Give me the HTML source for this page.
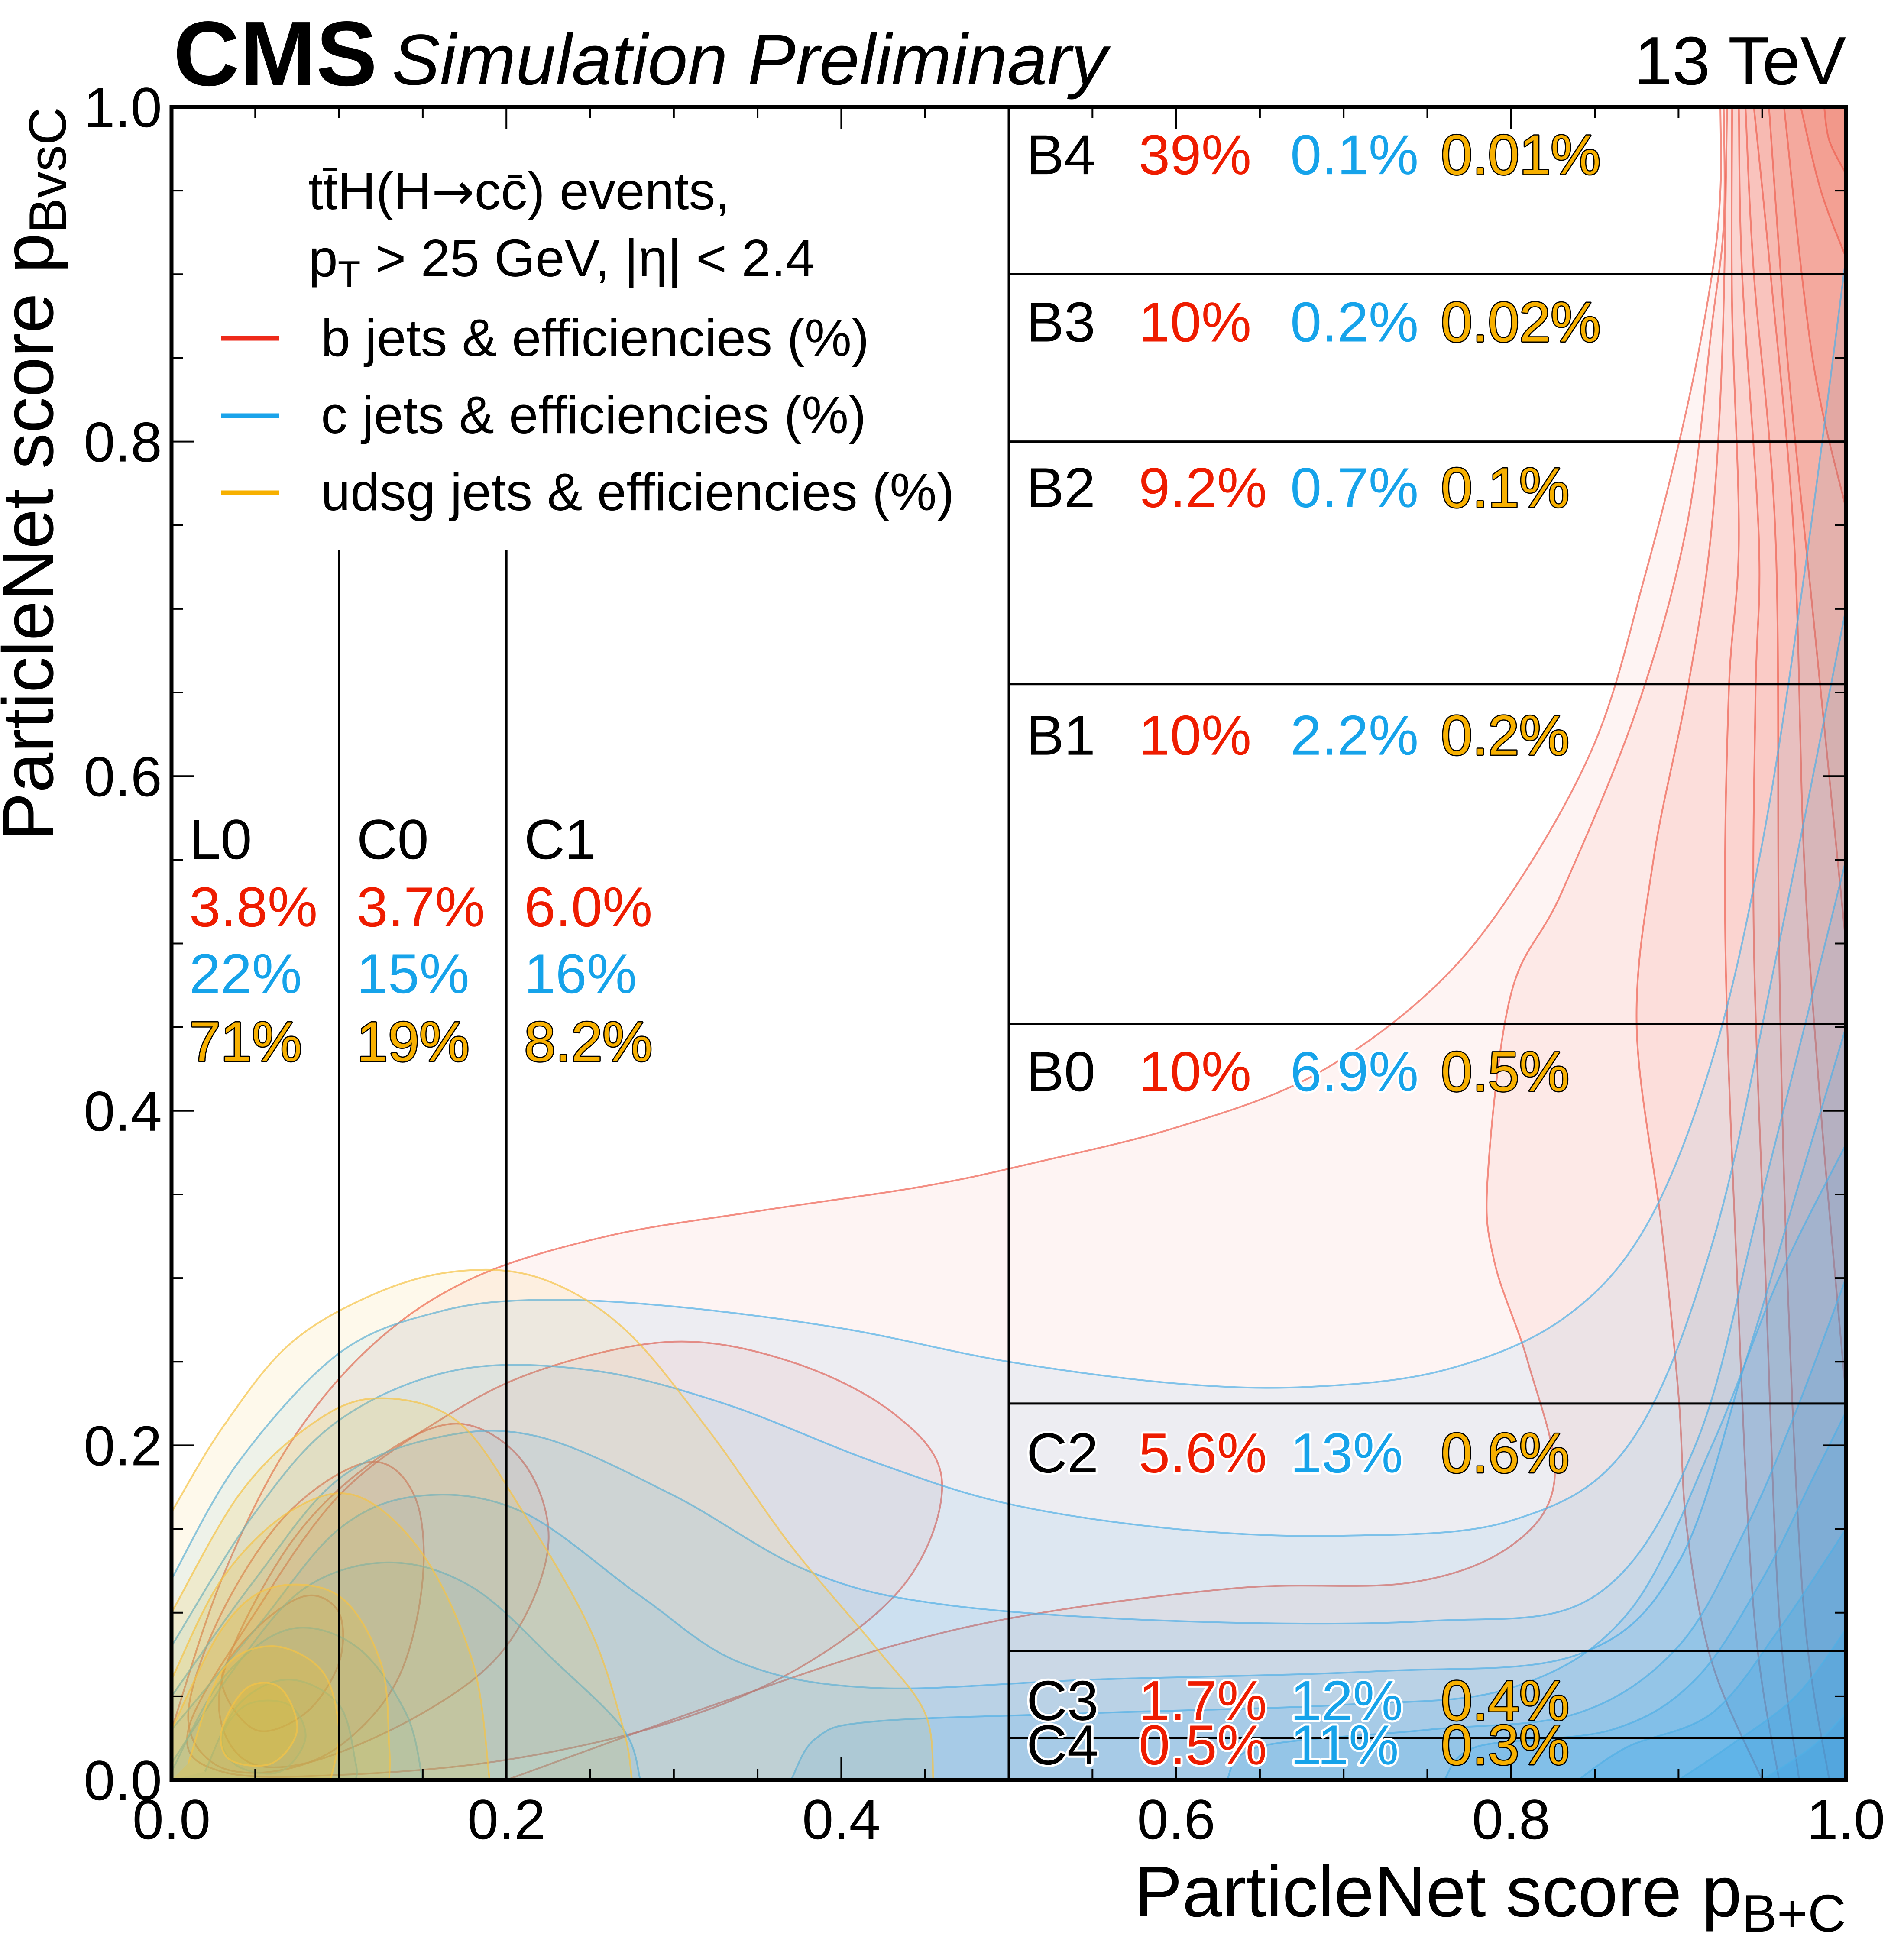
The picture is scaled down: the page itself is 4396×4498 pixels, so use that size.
<!DOCTYPE html>
<html><head><meta charset="utf-8"><style>
html,body{margin:0;padding:0;background:#fff;}
svg{display:block;font-family:"Liberation Sans",Arial,sans-serif;}
</style></head><body>
<svg id="chart" xmlns="http://www.w3.org/2000/svg" width="4396" height="4498" viewBox="0 0 4396 4498">
<defs><clipPath id="plotclip"><rect x="396" y="247" width="3866" height="3863"/></clipPath></defs>
<rect width="4396" height="4498" fill="#fff"/>
<g id="contours" clip-path="url(#plotclip)"></g>
<g id="cuts"></g>
<g id="axes"></g>
<g id="labels"></g>
<text x="400" y="197" font-size="212" font-weight="bold">CMS</text>
<text x="905" y="195" font-size="166" font-style="italic">Simulation Preliminary</text>
<text x="4262" y="195" font-size="158" text-anchor="end">13 TeV</text>
<text x="4262" y="4425" font-size="166" text-anchor="end">ParticleNet score p<tspan font-size="122" dy="35">B+C</tspan></text>
<text transform="translate(122,247) rotate(-90)" font-size="166" text-anchor="end">ParticleNet score p<tspan font-size="122" dy="30">BvsC</tspan></text>
<g>
<text x="712" y="483" font-size="122">tt̄H(H<tspan font-family="DejaVu Sans" font-size="118">→</tspan>cc̄) events,</text>
<text x="712" y="638" font-size="122">p<tspan font-size="86" dy="25">T</tspan><tspan dy="-25"> &gt; 25 GeV, |η| &lt; 2.4</tspan></text>
<line x1="511" y1="781" x2="644" y2="781" stroke="#ee2a1a" stroke-width="11"/>
<text x="741" y="822" font-size="122">b jets &amp; efficiencies (%)</text>
<line x1="511" y1="960" x2="644" y2="960" stroke="#1aa3ea" stroke-width="11"/>
<text x="741" y="1000" font-size="122">c jets &amp; efficiencies (%)</text>
<line x1="511" y1="1138" x2="644" y2="1138" stroke="#f7b000" stroke-width="11"/>
<text x="741" y="1178" font-size="122">udsg jets &amp; efficiencies (%)</text>
</g>
</svg>
<script>
// ---------- data ----------
const xTicks = [0.0, 0.2, 0.4, 0.6, 0.8, 1.0];
const yTicks = [0.0, 0.2, 0.4, 0.6, 0.8, 1.0];
const tickLabels = ["0.0", "0.2", "0.4", "0.6", "0.8", "1.0"];
const verticalCuts = [0.1, 0.2];
const verticalCutTop = 0.735;
const bvsCSplitX = 0.5;
const horizontalCuts = [0.9, 0.8, 0.655, 0.452, 0.225, 0.077, 0.025];
const rightCats = ["B4", "B3", "B2", "B1", "B0", "C2", "C3", "C4"];
const rightCatY = [0.972, 0.872, 0.773, 0.625, 0.424, 0.196, 0.048, 0.0215];
const rightB = ["39%", "10%", "9.2%", "10%", "10%", "5.6%", "1.7%", "0.5%"];
const rightC = ["0.1%", "0.2%", "0.7%", "2.2%", "6.9%", "13%", "12%", "11%"];
const rightL = ["0.01%", "0.02%", "0.1%", "0.2%", "0.5%", "0.6%", "0.4%", "0.3%"];
const leftCats = ["L0", "C0", "C1"];
const leftCatX = [0.0, 0.1, 0.2];
const leftB = ["3.8%", "3.7%", "6.0%"];
const leftC = ["22%", "15%", "16%"];
const leftL = ["71%", "19%", "8.2%"];

// c-jet contour levels
const cLevel1 = [[0,0.12],[0.04,0.19],[0.1,0.255],[0.16,0.28],[0.22,0.287],[0.3,0.283],[0.4,0.27],[0.5,0.25],[0.6,0.237],[0.68,0.235],[0.76,0.245],[0.83,0.275],[0.88,0.33],[0.92,0.43],[0.95,0.56],[0.975,0.72],[1.0,0.91]];
const cLevel2 = [[0,0.08],[0.05,0.16],[0.1,0.215],[0.17,0.245],[0.25,0.245],[0.33,0.225],[0.42,0.19],[0.5,0.165],[0.6,0.15],[0.7,0.146],[0.8,0.155],[0.87,0.2],[0.92,0.32],[0.96,0.5],[1.0,0.7]];
const cLevel3 = [[0,0.05],[0.05,0.12],[0.1,0.18],[0.16,0.205],[0.22,0.205],[0.3,0.17],[0.38,0.125],[0.46,0.105],[0.6,0.095],[0.75,0.095],[0.85,0.11],[0.91,0.2],[0.95,0.35],[1.0,0.55]];
const cLevel4 = [[0,0.03],[0.05,0.09],[0.1,0.15],[0.15,0.17],[0.21,0.16],[0.28,0.11],[0.34,0.07],[0.42,0.055],[0.55,0.06],[0.72,0.065],[0.84,0.075],[0.9,0.13],[0.94,0.25],[0.97,0.35],[1,0.45]];
const cLevel5a = [[0,0.01],[0.04,0.07],[0.08,0.115],[0.13,0.13],[0.18,0.115],[0.23,0.07],[0.27,0.03],[0.28,0]];
const cLevel5b = [[0.37,0],[0.385,0.025],[0.42,0.035],[0.55,0.04],[0.7,0.045],[0.8,0.055],[0.87,0.1],[0.92,0.2],[0.96,0.3],[1,0.38]];
const cLevel6a = [[0,0.005],[0.03,0.06],[0.07,0.09],[0.11,0.08],[0.14,0.04],[0.15,0]];
const cLevel6b = [[0.63,0],[0.65,0.02],[0.75,0.03],[0.84,0.04],[0.9,0.08],[0.94,0.15],[0.97,0.22],[1,0.3]];
const cLevel7a = [[0.02,0.005],[0.04,0.045],[0.07,0.06],[0.1,0.045],[0.11,0.01],[0.11,0]];
const cLevel7b = [[0.76,0],[0.78,0.02],[0.86,0.03],[0.91,0.06],[0.95,0.12],[0.98,0.18],[1,0.22]];
const cLevel8a = [[0.03,0.025],[0.045,0.045],[0.07,0.045],[0.08,0.025],[0.065,0.005],[0.04,0.008]];
const cLevel8b = [[0.84,0],[0.87,0.02],[0.92,0.04],[0.96,0.09],[1,0.15]];
const cLevel9b = [[0.9,0],[0.93,0.02],[0.97,0.05],[1,0.09]];
const cLevel10b = [[0.95,0],[0.98,0.02],[1,0.04]];

// b-jet contour levels
const bLevel1 = [[0,0.03],[0.03,0.12],[0.07,0.2],[0.12,0.26],[0.18,0.3],[0.26,0.325],[0.35,0.34],[0.45,0.355],[0.52,0.37],[0.6,0.39],[0.68,0.42],[0.75,0.47],[0.8,0.53],[0.85,0.62],[0.88,0.72],[0.905,0.82],[0.92,0.9],[0.925,0.95],[0.925,1.0]];
const bLevel2 = [[0.2,0],[0.33,0.047],[0.43,0.08],[0.52,0.1],[0.64,0.115],[0.74,0.118],[0.8,0.14],[0.826,0.18],[0.81,0.25],[0.79,0.31],[0.786,0.36],[0.8,0.47],[0.83,0.53],[0.875,0.64],[0.905,0.75],[0.92,0.87],[0.927,0.93],[0.927,1.0]];
const bLevel3 = [[0.95,0],[0.92,0.07],[0.905,0.15],[0.9,0.23],[0.89,0.33],[0.875,0.45],[0.885,0.55],[0.905,0.65],[0.919,0.741],[0.926,0.85],[0.929,1.0]];
const bLevel4 = [[0.96,0],[0.945,0.1],[0.935,0.3],[0.928,0.5],[0.93,0.65],[0.936,0.741],[0.932,0.88],[0.932,1.0]];
const bLevel5 = [[0.972,0],[0.96,0.1],[0.952,0.3],[0.945,0.5],[0.946,0.65],[0.948,0.741],[0.938,0.9],[0.936,1.0]];
const bLevel6 = [[0.99,0],[0.975,0.1],[0.965,0.3],[0.96,0.5],[0.958,0.741],[0.945,0.9],[0.94,1.0]];
const bLevel7 = [[1,0.23],[0.985,0.4],[0.975,0.55],[0.969,0.741],[0.955,0.9],[0.945,1.0]];
const bLevel8 = [[1,0.5],[0.99,0.6],[0.98,0.7],[0.965,0.85],[0.954,1.0]];
const bLevel9 = [[1,0.76],[0.98,0.85],[0.963,1.0]];
const bLevel10 = [[1,0.91],[0.985,0.95],[0.973,1.0]];
const bLevel11 = [[1,0.96],[0.99,0.98],[0.987,1.0]];
const bLoop1 = [[0.01,0.03],[0.05,0.1],[0.1,0.17],[0.16,0.215],[0.22,0.245],[0.3,0.262],[0.37,0.25],[0.43,0.22],[0.46,0.18],[0.44,0.12],[0.38,0.07],[0.3,0.035],[0.2,0.012],[0.1,0.003],[0.03,0.005]];
const bLoop2 = [[0.03,0.06],[0.07,0.14],[0.12,0.19],[0.17,0.213],[0.21,0.19],[0.225,0.14],[0.2,0.08],[0.15,0.04],[0.08,0.01],[0.04,0.015]];
const bLoop3 = [[0.01,0.04],[0.03,0.1],[0.07,0.16],[0.118,0.19],[0.145,0.17],[0.15,0.12],[0.135,0.06],[0.1,0.02],[0.06,0.005],[0.025,0.01]];
const bLoop4 = [[0.03,0.06],[0.05,0.09],[0.08,0.11],[0.1,0.1],[0.1,0.07],[0.08,0.04],[0.05,0.03]];

// udsg contour levels
const lLevel1 = [[0,0.16],[0.03,0.21],[0.07,0.26],[0.12,0.29],[0.17,0.304],[0.22,0.3],[0.27,0.27],[0.32,0.21],[0.37,0.14],[0.42,0.08],[0.45,0.04],[0.455,0]];
const lLevel2 = [[0,0.1],[0.04,0.17],[0.08,0.21],[0.12,0.228],[0.17,0.215],[0.21,0.16],[0.25,0.09],[0.27,0.03],[0.275,0]];
const lLevel3 = [[0,0.06],[0.03,0.12],[0.07,0.16],[0.11,0.17],[0.15,0.135],[0.18,0.07],[0.19,0]];
const lLevel4 = [[0,0.03],[0.03,0.09],[0.06,0.115],[0.1,0.11],[0.125,0.07],[0.13,0.02],[0.13,0]];
const lLevel5 = [[0.01,0.01],[0.03,0.065],[0.06,0.08],[0.09,0.065],[0.1,0.03],[0.095,0]];
const lLevel6 = [[0.03,0.03],[0.045,0.055],[0.065,0.055],[0.075,0.03],[0.06,0.01],[0.035,0.012]];

// ---------- axis functions ----------
const X = v => 396 + v * 3866;
const Y = v => 4110 - v * 3863;
const NS = "http://www.w3.org/2000/svg";
function mk(tag, attrs, parent) {
  const e = document.createElementNS(NS, tag);
  for (const k in attrs) e.setAttribute(k, attrs[k]);
  parent.appendChild(e);
  return e;
}
function smoothPath(pts, closedLoop) {
  const P = pts.map(p => [X(p[0]), Y(p[1])]);
  const n = P.length;
  let d = "M" + P[0][0].toFixed(1) + "," + P[0][1].toFixed(1);
  const get = i => closedLoop ? P[(i + n) % n] : P[Math.max(0, Math.min(n - 1, i))];
  const segs = closedLoop ? n : n - 1;
  for (let i = 0; i < segs; i++) {
    const p0 = get(i - 1), p1 = get(i), p2 = get(i + 1), p3 = get(i + 2);
    const c1 = [p1[0] + (p2[0] - p0[0]) / 6, p1[1] + (p2[1] - p0[1]) / 6];
    const c2 = [p2[0] - (p3[0] - p1[0]) / 6, p2[1] - (p3[1] - p1[1]) / 6];
    d += "C" + c1[0].toFixed(1) + "," + c1[1].toFixed(1) + " " + c2[0].toFixed(1) + "," + c2[1].toFixed(1) + " " + p2[0].toFixed(1) + "," + p2[1].toFixed(1);
  }
  return d;
}
const cg = document.getElementById("contours");
function contour(pts, close, fill, fop, stroke, name) {
  const d = smoothPath(pts, close === "loop");
  let dFill = d;
  if (close !== "loop") close.forEach(c => { dFill += "L" + X(c[0]) + "," + Y(c[1]); });
  dFill += "Z";
  const f = mk("path", {d: dFill, fill: fill, "fill-opacity": fop, stroke: "none"}, cg);
  
  
  const s = mk("path", {d: close === "loop" ? d + "Z" : d, fill: "none", stroke: stroke, "stroke-width": 4, "stroke-opacity": 0.7}, cg);
  
  
}
const BR = [[1, 0], [0, 0]], R0 = [[1, 0]], Z0 = [[0, 0]], TR = [[1, 1], [1, 0], [0, 0]], TR2 = [[1, 1], [1, 0]], TC = [[1, 1]];
const cf = "rgb(35,160,235)", cs = "rgb(80,175,230)";
const bf = "rgb(240,105,88)", bs = "rgb(238,95,80)";
const lf = "rgb(240,190,35)", ls = "rgb(245,195,70)";

// b jets (drawn first)
contour(bLevel1, TR, bf, 0.07, bs, "b-contour-1");
contour(bLevel2, TR2, bf, 0.07, bs, "b-contour-2");
contour(bLevel3, TR2, bf, 0.08, bs, "b-contour-3");
contour(bLevel4, TR2, bf, 0.08, bs, "b-contour-4");
contour(bLevel5, TR2, bf, 0.08, bs, "b-contour-5");
contour(bLevel6, TR2, bf, 0.08, bs, "b-contour-6");
contour(bLevel7, TC, bf, 0.1, bs, "b-contour-7");
contour(bLevel8, TC, bf, 0.1, bs, "b-contour-8");
contour(bLevel9, TC, bf, 0.12, bs, "b-contour-9");
contour(bLevel10, TC, bf, 0.14, bs, "b-contour-10");
contour(bLevel11, TC, bf, 0.14, bs, "b-contour-11");
contour(bLoop1, "loop", bf, 0.08, bs, "b-loop-1");
contour(bLoop2, "loop", bf, 0.08, bs, "b-loop-2");
contour(bLoop3, "loop", bf, 0.08, bs, "b-loop-3");
contour(bLoop4, "loop", bf, 0.08, bs, "b-loop-4");
// c jets
contour(cLevel1, BR, cf, 0.08, cs, "c-contour-1");
contour(cLevel2, BR, cf, 0.08, cs, "c-contour-2");
contour(cLevel3, BR, cf, 0.09, cs, "c-contour-3");
contour(cLevel4, BR, cf, 0.1, cs, "c-contour-4");
contour(cLevel5a, Z0, cf, 0.1, cs, "c-contour-5a");
contour(cLevel5b, R0, cf, 0.12, cs, "c-contour-5b");
contour(cLevel6a, Z0, cf, 0.1, cs, "c-contour-6a");
contour(cLevel6b, R0, cf, 0.14, cs, "c-contour-6b");
contour(cLevel7a, Z0, cf, 0.1, cs, "c-contour-7a");
contour(cLevel7b, R0, cf, 0.16, cs, "c-contour-7b");
contour(cLevel8a, "loop", cf, 0.1, cs, "c-contour-8a");
contour(cLevel8b, R0, cf, 0.18, cs, "c-contour-8b");
contour(cLevel9b, R0, cf, 0.2, cs, "c-contour-9b");
contour(cLevel10b, R0, cf, 0.2, cs, "c-contour-10b");
// udsg
contour(lLevel1, Z0, lf, 0.09, ls, "udsg-contour-1");
contour(lLevel2, Z0, lf, 0.14, ls, "udsg-contour-2");
contour(lLevel3, Z0, lf, 0.17, ls, "udsg-contour-3");
contour(lLevel4, Z0, lf, 0.2, ls, "udsg-contour-4");
contour(lLevel5, Z0, lf, 0.22, ls, "udsg-contour-5");
contour(lLevel6, "loop", lf, 0.25, ls, "udsg-contour-6");

// ---------- category cut lines ----------
const cuts = document.getElementById("cuts");
verticalCuts.forEach((v, i) => {
  const l = mk("line", {x1: X(v), x2: X(v), y1: Y(verticalCutTop), y2: Y(0), stroke: "#000", "stroke-width": 5}, cuts);
  
  
});
{
  const l = mk("line", {x1: X(bvsCSplitX), x2: X(bvsCSplitX), y1: Y(1), y2: Y(0), stroke: "#000", "stroke-width": 5}, cuts);
  
  
}
horizontalCuts.forEach((v, i) => {
  const l = mk("line", {x1: X(bvsCSplitX), x2: X(1), y1: Y(v), y2: Y(v), stroke: "#000", "stroke-width": 5}, cuts);
  
  
});

// ---------- axes ----------
const ax = document.getElementById("axes");
for (let k = 0; k <= 20; k++) {
  const v = k * 0.05;
  const major = (k % 4 === 0);
  const len = major ? 52 : 26;
  const t = [
    [X(v), Y(0), X(v), Y(0) - len], [X(v), Y(1), X(v), Y(1) + len],
    [X(0), Y(v), X(0) + len, Y(v)], [X(1), Y(v), X(1) - len, Y(v)]
  ];
  t.forEach(c => {
    const l = mk("line", {x1: c[0], y1: c[1], x2: c[2], y2: c[3], stroke: "#000", "stroke-width": 4}, ax);
    
    
  });
}
xTicks.forEach((v, i) => {
  const t = mk("text", {x: X(v), y: 4246, "font-size": 130, "text-anchor": "middle"}, ax);
  t.textContent = tickLabels[i];
  
  
});
yTicks.forEach((v, i) => {
  const t = mk("text", {x: 374, y: Y(v) + 46, "font-size": 130, "text-anchor": "end"}, ax);
  t.textContent = tickLabels[i];
  
  
});
{
  const r = mk("rect", {x: X(0), y: Y(1), width: X(1) - X(0), height: Y(0) - Y(1), fill: "none", stroke: "#000", "stroke-width": 9}, ax);
  
  
}

// ---------- labels ----------
const lab = document.getElementById("labels");
function txt(x, y, s, color, halo, name) {
  const t = mk("text", {x: x, y: y, "font-size": 130, fill: color}, lab);
  if (halo) { t.setAttribute("stroke", halo); t.setAttribute("stroke-width", halo === "#000" ? 5 : 10); t.setAttribute("paint-order", "stroke"); t.setAttribute("stroke-linejoin", "round"); }
  t.textContent = s;
  
  
}
const RED = "#ee1c00", BLUE = "#16a3ea", YEL = "#f7b000";
rightCats.forEach((c, i) => {
  const y = Y(rightCatY[i]) + 47;
  txt(2370, y, c, "#000", "#fff", "cat-" + c.toLowerCase() + "-name");
  txt(2629, y, rightB[i], RED, "#fff", "cat-" + c.toLowerCase() + "-b-eff");
  txt(2979, y, rightC[i], BLUE, "#fff", "cat-" + c.toLowerCase() + "-c-eff");
  txt(3327, y, rightL[i], YEL, "#000", "cat-" + c.toLowerCase() + "-udsg-eff");
});
leftCats.forEach((c, i) => {
  const x = X(leftCatX[i]) + 41;
  txt(x, 1983, c, "#000", null, "cat-" + c.toLowerCase() + "-name");
  txt(x, 2139, leftB[i], RED, null, "cat-" + c.toLowerCase() + "-b-eff");
  txt(x, 2293, leftC[i], BLUE, null, "cat-" + c.toLowerCase() + "-c-eff");
  txt(x, 2450, leftL[i], YEL, "#000", "cat-" + c.toLowerCase() + "-udsg-eff");
});
</script>
</body></html>
